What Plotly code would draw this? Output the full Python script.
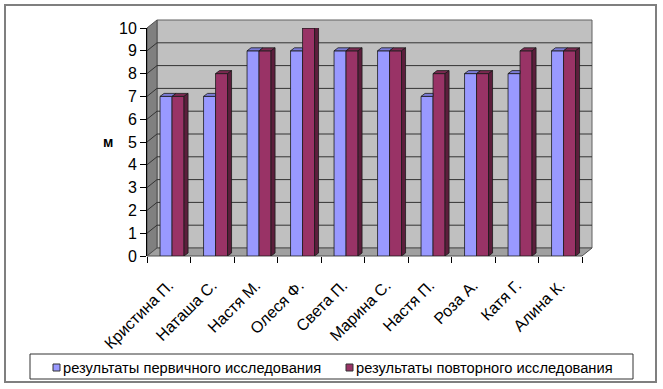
import plotly.graph_objects as go

categories = ["Кристина П.", "Наташа С.", "Настя М.", "Олеся Ф.", "Света П.",
              "Марина С.", "Настя П.", "Роза А.", "Катя Г.", "Алина К."]
first_values = [7, 7, 9, 9, 9, 9, 7, 8, 8, 9]
repeat_values = [7, 8, 9, 10, 9, 9, 8, 8, 9, 9]
series_names = ["результаты первичного исследования", "результаты повторного исследования"]
y_ticks = list(range(0, 11))
y_title = "м"

FONT = "Arial, Liberation Sans, sans-serif"
BLUE, BLUE_TOP = "#9999FF", "#7B7BD6"
RED, RED_TOP, RED_SIDE = "#993366", "#7A2950", "#5C1E3C"
EDGE = "#1a1a1a"

W, H = 663, 389
L, R, T, B = 147, 81, 28, 133
pw, ph = W - L - R, H - T - B
# 3D depth offsets (pixels) for walls and bar faces
WALL_DX, WALL_DY = 10, 8
BAR_DX, BAR_DY = 4, 3
wdx, wdy = WALL_DX / pw, WALL_DY / ph
ncat = len(categories)
bdx = BAR_DX / (pw / ncat)          # in category units
bdy = BAR_DY / (ph / 10)            # in value units

bar_w = 0.276
off_blue, off_red = -0.2, 0.076


def px(x):
    return (x - L) / pw


def py(y):
    return (H - B - y) / ph


fig = go.Figure()
fig.add_trace(go.Bar(x=categories, y=first_values, name=series_names[0],
                     marker=dict(color=BLUE, line=dict(color=EDGE, width=0.8)),
                     width=bar_w, offset=off_blue, showlegend=False, hoverinfo="skip"))
fig.add_trace(go.Bar(x=categories, y=repeat_values, name=series_names[1],
                     marker=dict(color=RED, line=dict(color=EDGE, width=0.8)),
                     width=bar_w, offset=off_red, showlegend=False, hoverinfo="skip"))

shapes = []
# outer frame
shapes.append(dict(type="rect", xref="paper", yref="paper",
                   x0=px(5), x1=px(656), y0=py(382), y1=py(5),
                   line=dict(color="#7f7f7f", width=2), fillcolor="rgba(0,0,0,0)", layer="below"))
# back wall
shapes.append(dict(type="rect", xref="paper", yref="paper", x0=wdx, x1=1 + wdx, y0=wdy, y1=1 + wdy,
                   fillcolor="#C0C0C0", line=dict(color="#606060", width=1), layer="below"))
# left wall
shapes.append(dict(type="path", xref="paper", yref="paper",
                   path=f"M 0,0 L 0,1 L {wdx},{1 + wdy} L {wdx},{wdy} Z",
                   fillcolor="#808080", line=dict(color="#505050", width=1), layer="below"))
# floor
shapes.append(dict(type="path", xref="paper", yref="paper",
                   path=f"M 0,0 L 1,0 L {1 + wdx},{wdy} L {wdx},{wdy} Z",
                   fillcolor="#A0A0A0", line=dict(color="#505050", width=1), layer="below"))
# gridlines on back wall and left wall
for v in y_ticks[1:]:
    shapes.append(dict(type="line", xref="paper", yref="y", ysizemode="pixel", yanchor=v,
                       x0=wdx, x1=1 + wdx, y0=WALL_DY, y1=WALL_DY,
                       line=dict(color="#333333", width=1), layer="below"))
    shapes.append(dict(type="line", xref="paper", yref="y", ysizemode="pixel", yanchor=v,
                       x0=0, x1=wdx, y0=0, y1=WALL_DY,
                       line=dict(color="#333333", width=1), layer="below"))

# 3D faces of the bars
for i, (b, r) in enumerate(zip(first_values, repeat_values)):
    bx0, bx1 = i + off_blue, i + off_blue + bar_w
    rx0, rx1 = i + off_red, i + off_red + bar_w
    if r > b:
        p = f"M {bx0},{b} L {bx1},{b} L {bx1},{b + bdy} L {bx0 + bdx},{b + bdy} Z"
    else:
        p = f"M {bx0},{b} L {bx1},{b} L {bx1 + bdx},{b + bdy} L {bx0 + bdx},{b + bdy} Z"
    shapes.append(dict(type="path", xref="x", yref="y", path=p, fillcolor=BLUE_TOP,
                       line=dict(color=EDGE, width=0.8), layer="above"))
    shapes.append(dict(type="path", xref="x", yref="y",
                       path=f"M {rx0},{r} L {rx1},{r} L {rx1 + bdx},{r + bdy} L {rx0 + bdx},{r + bdy} Z",
                       fillcolor=RED_TOP, line=dict(color=EDGE, width=0.8), layer="above"))
    shapes.append(dict(type="path", xref="x", yref="y",
                       path=f"M {rx1},0 L {rx1},{r} L {rx1 + bdx},{r + bdy} L {rx1 + bdx},{bdy} Z",
                       fillcolor=RED_SIDE, line=dict(color=EDGE, width=0.8), layer="above"))

# legend frame and swatches
shapes.append(dict(type="rect", xref="paper", yref="paper",
                   x0=px(30), x1=px(633), y0=py(379), y1=py(354),
                   line=dict(color="#333333", width=1), fillcolor="white", layer="below"))
annotations = []
for name, color, sx in [(series_names[0], BLUE, 53), (series_names[1], RED, 346)]:
    shapes.append(dict(type="rect", xref="paper", yref="paper",
                       x0=px(sx), x1=px(sx + 7), y0=py(371), y1=py(364),
                       fillcolor=color, line=dict(color="#333333", width=1), layer="above"))
    annotations.append(dict(xref="paper", yref="paper", x=px(sx + 8), y=py(367.5),
                            xanchor="left", yanchor="middle", showarrow=False, text=name,
                            font=dict(size=14.7, family=FONT, color="black")))
# y-axis title (horizontal, bold)
annotations.append(dict(xref="paper", yref="y", x=px(108), y=5, xanchor="center",
                        yanchor="middle", showarrow=False, text=f"<b>{y_title}</b>",
                        font=dict(size=14, family=FONT, color="black")))

fig.update_layout(
    width=W, height=H,
    margin=dict(l=L, r=R, t=T, b=B, autoexpand=False),
    paper_bgcolor="white", plot_bgcolor="white",
    font=dict(family=FONT, color="black"),
    barmode="group",
    showlegend=False,
    hovermode=False,
    shapes=shapes,
    annotations=annotations,
    xaxis=dict(type="category", range=[-0.5, ncat - 0.5], tickson="boundaries",
               ticks="outside", ticklen=6, tickcolor="black", showline=False,
               showgrid=False, tickangle=-45, automargin=False, ticklabelstandoff=16,
               tickfont=dict(size=16, family=FONT)),
    yaxis=dict(range=[0, 10], tickvals=y_ticks, ticks="outside", ticklen=6,
               tickcolor="black", showline=True, linecolor="black", linewidth=1,
               showgrid=False, zeroline=False, automargin=False,
               tickfont=dict(size=16, family=FONT)),
)

fig.write_html("out.html", config={"displayModeBar": False, "staticPlot": True},
               post_script="document.body.style.margin='0';document.body.style.padding='0';"
                           "document.body.style.overflow='hidden';")
